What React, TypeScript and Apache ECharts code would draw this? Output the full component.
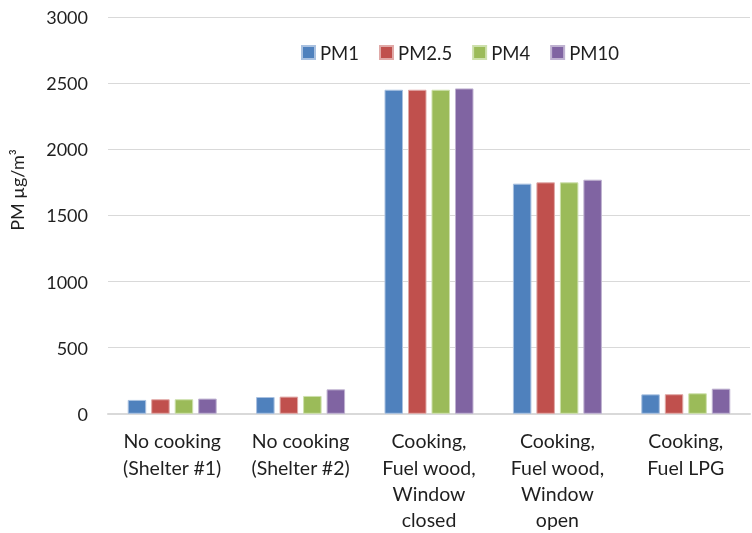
import React, { useEffect, useRef } from "react";
import * as echarts from "echarts";

const categories = [
  "No cooking\n(Shelter #1)",
  "No cooking\n(Shelter #2)",
  "Cooking,\nFuel wood,\nWindow\nclosed",
  "Cooking,\nFuel wood,\nWindow\nopen",
  "Cooking,\nFuel LPG",
];
const pm1 = [105, 127, 2450, 1740, 147];
const pm25 = [110, 130, 2450, 1750, 148];
const pm4 = [110, 135, 2450, 1750, 155];
const pm10 = [115, 185, 2460, 1770, 190];
const seriesNames = ["PM1", "PM2.5", "PM4", "PM10"];
const seriesColors = ["#4f81bd", "#c0504d", "#9bbb59", "#8064a2"];
const seriesBorders = ["#a9c1e0", "#e0a9a7", "#cde0ac", "#bfb2d1"];

const FONT = "Lato, 'Open Sans', sans-serif";
const TEXT = "#1f1f1f";

export default function App() {
  const ref = useRef<HTMLDivElement>(null);

  useEffect(() => {
    if (!ref.current) return;
    const chart = echarts.init(ref.current, null, { renderer: "svg" });
    const values = [pm1, pm25, pm4, pm10];
    chart.setOption({
      animation: false,
      textStyle: { fontFamily: FONT, color: TEXT },
      legend: {
        data: seriesNames,
        left: 296,
        top: 38,
        icon: "rect",
        itemWidth: 13,
        itemHeight: 13,
        itemGap: 20,
        textStyle: { fontFamily: FONT, fontSize: 18.5, color: TEXT },
      },
      grid: { left: 108, right: 2, top: 17, bottom: 116, containLabel: false },
      xAxis: {
        type: "category",
        data: categories,
        axisLine: { lineStyle: { color: "#d9d9d9", width: 2 } },
        axisTick: { show: false },
        axisLabel: {
          interval: 0,
          fontFamily: FONT,
          fontSize: 19.5,
          color: TEXT,
          lineHeight: 26.3,
          margin: 14,
          align: "center",
        },
      },
      yAxis: {
        type: "value",
        min: 0,
        max: 3000,
        interval: 500,
        axisLine: { show: false },
        axisTick: { show: false },
        splitLine: { lineStyle: { color: "#d9d9d9", width: 1 } },
        axisLabel: {
          fontFamily: FONT,
          fontSize: 18,
          color: TEXT,
          margin: 20,
          formatter: (v: number) => String(v),
        },
      },
      graphic: [
        {
          type: "text",
          x: 17,
          y: 190,
          rotation: Math.PI / 2,
          style: {
            text: "PM µg/m³",
            fontFamily: FONT,
            fontSize: 18,
            fill: TEXT,
            align: "center",
            verticalAlign: "middle",
          },
        },
      ],
      series: seriesNames.map((name, i) => ({
        name,
        type: "bar",
        data: values[i],
        barWidth: 18.5,
        barGap: "27%",
        itemStyle: {
          color: seriesColors[i],
          borderColor: seriesBorders[i],
          borderWidth: 1,
        },
      })),
    });
    return () => chart.dispose();
  }, []);

  return (
    <div
      ref={ref}
      style={{ position: "fixed", left: 0, top: 0, width: 752, height: 533 }}
    />
  );
}
